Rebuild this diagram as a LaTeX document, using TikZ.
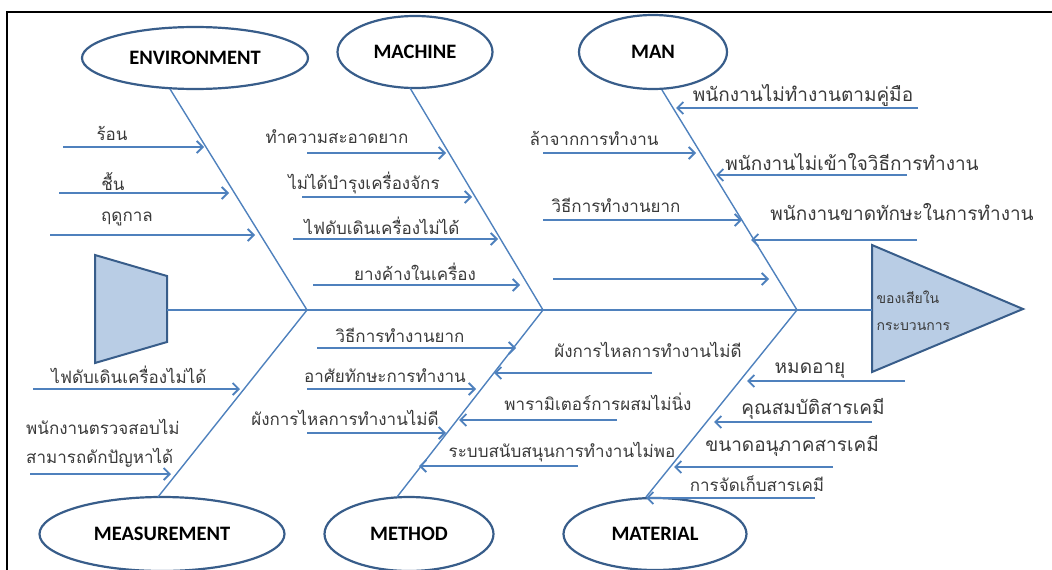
\documentclass[tikz,border=0pt]{standalone}
\usepackage{fontspec}
\usetikzlibrary{arrows.meta,shapes.geometric}
\newfontfamily\thaifont[Script=Thai]{Loma}
\newfontfamily\labfont{Carlito}
\definecolor{bone}{HTML}{4F81BD}
\definecolor{rim}{HTML}{385D8A}
\definecolor{pale}{HTML}{B9CDE5}
\definecolor{ink}{HTML}{3A3A3A}
\tikzset{
  bonel/.style={draw=bone,line width=1.4pt},
  causearr/.style={draw=bone,line width=1.8pt,-{Straight Barb[length=6pt,width=12pt]}},
  cat/.style={ellipse,draw=rim,line width=2.2pt,fill=white,inner sep=0pt,
    font=\labfont\bfseries\fontsize{20.5}{22}\selectfont,text=black},
  ctext/.style={font=\thaifont\fontsize{17}{19}\selectfont,text=ink,inner sep=0pt},
  btext/.style={font=\thaifont\fontsize{19}{21}\selectfont,text=ink,inner sep=0pt},
}
\begin{document}
\begin{tikzpicture}[x=1pt,y=-1pt]
\useasboundingbox (0,0) rectangle (1052,570);
% frame: top and left edges only
\draw[line width=2.4pt] (7,570) -- (7,12) -- (1052,12);

% fish tail and head
\draw[rim,line width=2pt,fill=pale] (95,255) -- (167,276) -- (167,342) -- (95,363) -- cycle;
\draw[rim,line width=2pt,fill=pale] (872,245) -- (1023,309) -- (872,372) -- cycle;
\coordinate (head) at (872,310);
\node[font=\thaifont\fontsize{14}{16}\selectfont,text=ink,anchor=west,align=left] (headtxt) at (873,311)
  {ของเสียใน\\[11pt]กระบวนการ};

% spine and joints
\coordinate (tail) at (167,310);
\coordinate (j1) at (307,310);
\coordinate (j2) at (543,310);
\coordinate (j3) at (797,310);
\draw[bonel] (tail) -- (head);

% category ellipses
\node[cat,minimum width=226pt,minimum height=62pt] (env) at (195,58) {ENVIRONMENT};
\node[cat,minimum width=155pt,minimum height=72pt] (mach) at (415,52) {MACHINE};
\node[cat,minimum width=148pt,minimum height=74pt] (man) at (653,52) {MAN};
\node[cat,minimum width=245pt,minimum height=74pt] (meas) at (162,534) {MEASUREMENT};
\node[cat,minimum width=169pt,minimum height=74pt] (meth) at (409,534) {METHOD};
\node[cat,minimum width=183pt,minimum height=72pt] (mat) at (655,534) {MATERIAL};

% bones
\coordinate (envb) at (170,89);
\coordinate (machb) at (410,88);
\coordinate (manb) at (662,90);
\coordinate (measb) at (158,497);
\coordinate (methb) at (397,497);
\coordinate (matb) at (646,497);
\draw[bonel] (envb) -- (j1) -- (measb);
\draw[bonel] (machb) -- (j2) -- (methb);
\draw[bonel] (manb) -- (j3) -- (matb);

% ENVIRONMENT causes
\node[ctext] (e1) at (112,133) {ร้อน};
\node[ctext] (e2) at (113,182) {ชื้น};
\node[ctext] (e3) at (127,219) {ฤดูกาล};
\coordinate (e1s) at (63,147);  \coordinate (e1e) at (204,147);
\coordinate (e2s) at (59,193);  \coordinate (e2e) at (229,193);
\coordinate (e3s) at (50,235);  \coordinate (e3e) at (255,235);
\draw[causearr] (e1s) -- (e1e);
\draw[causearr] (e2s) -- (e2e);
\draw[causearr] (e3s) -- (e3e);

% MACHINE causes
\node[ctext] (m1) at (337,137) {ทำความสะอาดยาก};
\node[ctext] (m2) at (364,183) {ไม่ได้บำรุงเครื่องจักร};
\node[ctext] (m3) at (382,226) {ไฟดับเดินเครื่องไม่ได้};
\node[ctext] (m4) at (415,272) {ยางค้างในเครื่อง};
\coordinate (m1s) at (307,153); \coordinate (m1e) at (446,153);
\coordinate (m2s) at (302,197); \coordinate (m2e) at (472,197);
\coordinate (m3s) at (293,239); \coordinate (m3e) at (498,239);
\coordinate (m4s) at (313,285); \coordinate (m4e) at (520,285);
\draw[causearr] (m1s) -- (m1e);
\draw[causearr] (m2s) -- (m2e);
\draw[causearr] (m3s) -- (m3e);
\draw[causearr] (m4s) -- (m4e);

% MAN causes
\node[btext] (n1) at (803,95) {พนักงานไม่ทำงานตามคู่มือ};
\node[ctext] (n2) at (594,138) {ล้าจากการทำงาน};
\node[btext] (n3) at (852,162) {พนักงานไม่เข้าใจวิธีการทำงาน};
\node[ctext] (n4) at (616,205) {วิธีการทำงานยาก};
\node[btext] (n5) at (902,212) {พนักงานขาดทักษะในการทำงาน};
\coordinate (n1s) at (918,108); \coordinate (n1e) at (676,108);
\coordinate (n2s) at (543,153); \coordinate (n2e) at (696,153);
\coordinate (n3s) at (907,175); \coordinate (n3e) at (716,175);
\coordinate (n4s) at (543,220); \coordinate (n4e) at (742,220);
\coordinate (n5s) at (917,240); \coordinate (n5e) at (751,240);
\coordinate (n6s) at (553,279); \coordinate (n6e) at (769,279);
\draw[causearr] (n1s) -- (n1e);
\draw[causearr] (n2s) -- (n2e);
\draw[causearr] (n3s) -- (n3e);
\draw[causearr] (n4s) -- (n4e);
\draw[causearr] (n5s) -- (n5e);
\draw[causearr] (n6s) -- (n6e);

% MEASUREMENT causes
\node[ctext] (s1) at (129,375) {ไฟดับเดินเครื่องไม่ได้};
\node[ctext,anchor=west,align=left] (s2) at (26,443) {พนักงานตรวจสอบไม่\\[10pt]สามารถดักปัญหาได้};
\coordinate (s1s) at (33,389);  \coordinate (s1e) at (240,389);
\coordinate (s2s) at (30,474);  \coordinate (s2e) at (171,474);
\draw[causearr] (s1s) -- (s1e);
\draw[causearr] (s2s) -- (s2e);

% METHOD causes
\node[ctext] (t1) at (400,335) {วิธีการทำงานยาก};
\node[ctext] (t2) at (385,376) {อาศัยทักษะการทำงาน};
\node[ctext] (t3) at (345,418) {ผังการไหลการทำงานไม่ดี};
\node[ctext] (t4) at (648,350) {ผังการไหลการทำงานไม่ดี};
\node[ctext] (t5) at (598,402) {พารามิเตอร์การผสมไม่นิ่ง};
\node[ctext] (t6) at (562,452) {ระบบสนับสนุนการทำงานไม่พอ};
\coordinate (t1s) at (317,348); \coordinate (t1e) at (516,348);
\coordinate (t2s) at (307,389); \coordinate (t2e) at (476,389);
\coordinate (t3s) at (307,433); \coordinate (t3e) at (446,433);
\coordinate (t4s) at (652,373); \coordinate (t4e) at (494,373);
\coordinate (t5s) at (617,420); \coordinate (t5e) at (459,420);
\coordinate (t6s) at (578,466); \coordinate (t6e) at (419,466);
\draw[causearr] (t1s) -- (t1e);
\draw[causearr] (t2s) -- (t2e);
\draw[causearr] (t3s) -- (t3e);
\draw[causearr] (t4s) -- (t4e);
\draw[causearr] (t5s) -- (t5e);
\draw[causearr] (t6s) -- (t6e);

% MATERIAL causes
\node[btext] (r1) at (810,371) {หมดอายุ};
\node[btext] (r2) at (813,409) {คุณสมบัติสารเคมี};
\node[btext] (r3) at (792,446) {ขนาดอนุภาคสารเคมี};
\node[ctext] (r4) at (757,484) {การจัดเก็บสารเคมี};
\coordinate (r1s) at (905,381); \coordinate (r1e) at (747,381);
\coordinate (r2s) at (872,422); \coordinate (r2e) at (714,422);
\coordinate (r3s) at (833,467); \coordinate (r3e) at (674,467);
\coordinate (r4s) at (815,498); \coordinate (r4e) at (646,498);
\draw[causearr] (r1s) -- (r1e);
\draw[causearr] (r2s) -- (r2e);
\draw[causearr] (r3s) -- (r3e);
\draw[causearr] (r4s) -- (r4e);
\end{tikzpicture}
\end{document}
